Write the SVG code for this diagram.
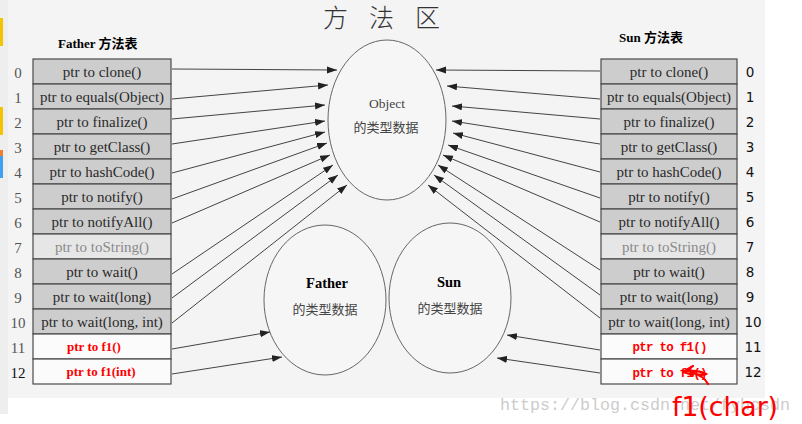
<svg xmlns="http://www.w3.org/2000/svg" width="802" height="424" viewBox="0 0 802 424">
<defs>
<marker id="ah" markerUnits="userSpaceOnUse" markerWidth="11" markerHeight="8" refX="10" refY="3.5" orient="auto">
<path d="M0,0 L10,3.5 L0,7 z" fill="#222"/>
</marker>
<style>
.cell{fill:#cdcdcd;stroke:#4a4a4a;stroke-width:1.2}
.cell7{fill:#e6e6e6;stroke:#4a4a4a;stroke-width:1.2}
.cellw{fill:#fbfbfb;stroke:#4a4a4a;stroke-width:1.2}
.t{font-family:"Liberation Serif","Noto Sans CJK SC",serif;font-size:15px;fill:#2a2a2a;text-anchor:middle}
.t7{font-family:"Liberation Serif",serif;font-size:15px;fill:#8a8a8a;text-anchor:middle}
.rl{font-family:"Liberation Serif",serif;font-size:13px;font-weight:bold;fill:#ff0000;text-anchor:middle}
.rr{font-family:"Liberation Mono",monospace;font-size:12.5px;font-weight:bold;fill:#ff0000;text-anchor:middle}
.nl{font-family:"Liberation Serif",serif;font-size:15px;fill:#555;text-anchor:middle}
.nr{font-family:"DejaVu Sans",sans-serif;font-size:13.5px;fill:#111;text-anchor:middle}
.h{font-family:"Liberation Serif","Noto Sans CJK SC",serif;font-size:13px;font-weight:bold;fill:#000}
.cj{font-family:"Noto Sans CJK SC",sans-serif;font-size:13px;fill:#444;text-anchor:middle}
.ell{fill:#f6f6f6;stroke:#666;stroke-width:1}
.c{stroke:#444;stroke-width:1;fill:none;marker-end:url(#ah)}
</style>
</defs>
<rect x="0" y="0" width="802" height="424" fill="#ffffff"/>
<rect x="0" y="0" width="8" height="414" fill="#eeeeee"/>
<rect x="0" y="18" width="3" height="28" fill="#f5c400"/>
<rect x="0" y="107" width="3" height="28" fill="#f5c400"/>
<rect x="0" y="150" width="3" height="6" fill="#f08030"/>
<rect x="0" y="156" width="3" height="22" fill="#40a0f0"/>
<rect x="8" y="0" width="757" height="398" fill="#f4f4f4"/>

<text x="323" y="27" textLength="117" lengthAdjust="spacing" style="font-family:'Noto Sans CJK SC',sans-serif;font-size:25px;fill:#333;font-weight:300">方法区</text>

<g id="father-table">
<text class="h" x="58" y="48">Father 方法表</text>
<rect class="cell" x="33" y="59" width="138" height="25"/>
<rect class="cell" x="33" y="84" width="138" height="25"/>
<rect class="cell" x="33" y="109" width="138" height="25"/>
<rect class="cell" x="33" y="134" width="138" height="25"/>
<rect class="cell" x="33" y="159" width="138" height="25"/>
<rect class="cell" x="33" y="184" width="138" height="25"/>
<rect class="cell" x="33" y="209" width="138" height="25"/>
<rect class="cell7" x="33" y="234" width="138" height="25"/>
<rect class="cell" x="33" y="259" width="138" height="25"/>
<rect class="cell" x="33" y="284" width="138" height="25"/>
<rect class="cell" x="33" y="309" width="138" height="25"/>
<rect class="cellw" x="33" y="334" width="138" height="25"/>
<rect class="cellw" x="33" y="359" width="138" height="25"/>
<text class="t" x="102" y="77">ptr to clone()</text>
<text class="t" x="102" y="102">ptr to equals(Object)</text>
<text class="t" x="102" y="127">ptr to finalize()</text>
<text class="t" x="102" y="152">ptr to getClass()</text>
<text class="t" x="102" y="177">ptr to hashCode()</text>
<text class="t" x="102" y="202">ptr to notify()</text>
<text class="t" x="102" y="227">ptr to notifyAll()</text>
<text class="t7" x="102" y="252">ptr to toString()</text>
<text class="t" x="102" y="277">ptr to wait()</text>
<text class="t" x="102" y="302">ptr to wait(long)</text>
<text class="t" x="102" y="327">ptr to wait(long, int)</text>
<text class="rl" x="94" y="351">ptr to f1()</text>
<text class="rl" x="101" y="376">ptr to f1(int)</text>
<text class="nl" x="18" y="78">0</text>
<text class="nl" x="18" y="103">1</text>
<text class="nl" x="18" y="128">2</text>
<text class="nl" x="18" y="153">3</text>
<text class="nl" x="18" y="178">4</text>
<text class="nl" x="18" y="203">5</text>
<text class="nl" x="18" y="228">6</text>
<text class="nl" x="18" y="253">7</text>
<text class="nl" x="18" y="278">8</text>
<text class="nl" x="18" y="303">9</text>
<text class="nl" x="18" y="328">10</text>
<text class="nl" x="18" y="353">11</text>
<text class="nl" x="18" y="378" style="fill:#111">12</text>
</g>

<g id="sun-table">
<text class="h" x="619" y="42">Sun 方法表</text>
<rect class="cell" x="601" y="59" width="136" height="25"/>
<rect class="cell" x="601" y="84" width="136" height="25"/>
<rect class="cell" x="601" y="109" width="136" height="25"/>
<rect class="cell" x="601" y="134" width="136" height="25"/>
<rect class="cell" x="601" y="159" width="136" height="25"/>
<rect class="cell" x="601" y="184" width="136" height="25"/>
<rect class="cell" x="601" y="209" width="136" height="25"/>
<rect class="cell7" x="601" y="234" width="136" height="25"/>
<rect class="cell" x="601" y="259" width="136" height="25"/>
<rect class="cell" x="601" y="284" width="136" height="25"/>
<rect class="cell" x="601" y="309" width="136" height="25"/>
<rect class="cellw" x="601" y="334" width="136" height="25"/>
<rect class="cellw" x="601" y="359" width="136" height="25"/>
<text class="t" x="669" y="77">ptr to clone()</text>
<text class="t" x="669" y="102">ptr to equals(Object)</text>
<text class="t" x="669" y="127">ptr to finalize()</text>
<text class="t" x="669" y="152">ptr to getClass()</text>
<text class="t" x="669" y="177">ptr to hashCode()</text>
<text class="t" x="669" y="202">ptr to notify()</text>
<text class="t" x="669" y="227">ptr to notifyAll()</text>
<text class="t7" x="669" y="252">ptr to toString()</text>
<text class="t" x="669" y="277">ptr to wait()</text>
<text class="t" x="669" y="302">ptr to wait(long)</text>
<text class="t" x="669" y="327">ptr to wait(long, int)</text>
<text class="rr" x="670" y="351" textLength="75" lengthAdjust="spacing">ptr to f1()</text>
<text class="rr" x="670" y="377" textLength="75" lengthAdjust="spacing">ptr to f1()</text>
<path d="M683,372 L693,366 M683,372 L693,375 M683,372 C692,370 700,371 706,374 C701,377 694,373 690,372 C698,374 705,378 708,384" fill="none" stroke="#ff0000" stroke-width="2.2" stroke-linecap="round"/>
<text class="nr" x="750" y="77">0</text>
<text class="nr" x="750" y="102">1</text>
<text class="nr" x="750" y="127">2</text>
<text class="nr" x="750" y="152">3</text>
<text class="nr" x="750" y="177">4</text>
<text class="nr" x="750" y="202">5</text>
<text class="nr" x="750" y="227">6</text>
<text class="nr" x="750" y="252">7</text>
<text class="nr" x="750" y="277">8</text>
<text class="nr" x="750" y="302">9</text>
<text class="nr" x="753" y="327">10</text>
<text class="nr" x="753" y="352">11</text>
<text class="nr" x="753" y="377">12</text>
</g>

<g id="object">
<ellipse class="ell" cx="387" cy="120" rx="59" ry="80"/>
<text x="387" y="108" style="font-family:'Liberation Serif',serif;font-size:13.5px;fill:#444;text-anchor:middle">Object</text>
<text class="cj" x="386" y="132">的类型数据</text>
</g>

<g id="father">
<ellipse class="ell" cx="325" cy="300" rx="61" ry="75"/>
<text x="327" y="288" style="font-family:'Liberation Serif',serif;font-size:14.5px;font-weight:bold;fill:#000;text-anchor:middle">Father</text>
<text class="cj" x="325" y="314">的类型数据</text>
</g>

<g id="sun">
<ellipse class="ell" cx="450" cy="298" rx="61" ry="75"/>
<text x="449" y="287" style="font-family:'Liberation Serif',serif;font-size:14.5px;font-weight:bold;fill:#000;text-anchor:middle">Sun</text>
<text class="cj" x="450" y="313">的类型数据</text>
</g>

<g id="connectors">
<path class="c" d="M172,69 L337,70"/>
<path class="c" d="M172,99 L328,85"/>
<path class="c" d="M172,119 L325,105"/>
<path class="c" d="M172,144 L325,121"/>
<path class="c" d="M172,173 L325,132"/>
<path class="c" d="M172,199 L327,143"/>
<path class="c" d="M172,223 L330,155"/>
<path class="c" d="M172,274 L333,165"/>
<path class="c" d="M172,298 L338,175"/>
<path class="c" d="M172,323 L347,185"/>
<path class="c" d="M172,349 L270,332"/>
<path class="c" d="M172,374 L282,357"/>
<path class="c" d="M600,71 L436,70"/>
<path class="c" d="M600,99 L447,86"/>
<path class="c" d="M600,119 L452,106"/>
<path class="c" d="M600,144 L452,121"/>
<path class="c" d="M600,172 L453,133"/>
<path class="c" d="M600,198 L448,145"/>
<path class="c" d="M600,222 L443,155"/>
<path class="c" d="M600,270 L438,165"/>
<path class="c" d="M600,295 L434,175"/>
<path class="c" d="M600,318 L428,185"/>
<path class="c" d="M600,350 L507,335"/>
<path class="c" d="M600,373 L497,358"/>
</g>

<text x="500" y="410" textLength="290" lengthAdjust="spacingAndGlyphs" style="font-family:'Liberation Mono',monospace;font-size:17px;fill:#cccccc">https://blog.csdn.net/fyhcsdn</text>
<text x="672" y="416" textLength="106" lengthAdjust="spacingAndGlyphs" style="font-family:'DejaVu Sans',sans-serif;font-size:27px;fill:#ff0000">f1(char)</text>
</svg>
